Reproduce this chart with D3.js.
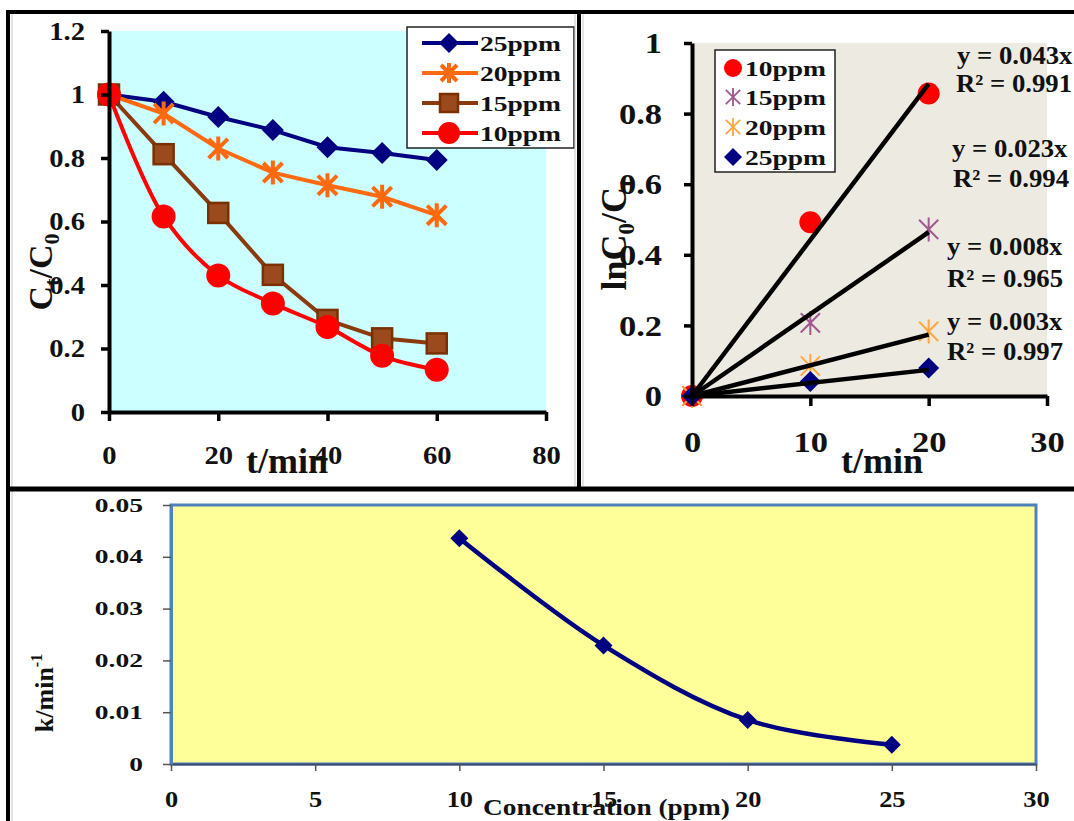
<!DOCTYPE html>
<html><head><meta charset="utf-8">
<script src="https://cdn.jsdelivr.net/npm/d3@7"></script>
<style>
body{margin:0;background:#fff}
svg{display:block}
text{font-family:"Liberation Serif","Times New Roman",serif;font-weight:bold;fill:#111}
</style>
</head><body>
<svg id="c" width="1074" height="821"></svg>
<script>
// ---------- data ----------
const timeMin = [0, 10, 20, 30, 40, 50, 60];
const ratio25 = [1, 0.977, 0.929, 0.888, 0.834, 0.816, 0.794];
const ratio20 = [1, 0.940, 0.830, 0.754, 0.714, 0.678, 0.620];
const ratio15 = [1, 0.812, 0.627, 0.432, 0.290, 0.232, 0.216];
const ratio10 = [1, 0.616, 0.430, 0.342, 0.268, 0.177, 0.133];
const legend1Names = ["25ppm", "20ppm", "15ppm", "10ppm"];
const xTicks1 = [0, 20, 40, 60, 80];
const yTicks1 = [0, 0.2, 0.4, 0.6, 0.8, 1, 1.2];

const timeFit = [0, 10, 20];
const ln10 = [0, 0.492, 0.857];
const ln15 = [0, 0.207, 0.472];
const ln20 = [0, 0.085, 0.183];
const ln25 = [0, 0.041, 0.079];
const legend2Names = ["10ppm", "15ppm", "20ppm", "25ppm"];
const fitSlopes = [0.0442, 0.0232, 0.0087, 0.0037];
const eqLabels = ["y = 0.043x", "y = 0.023x", "y = 0.008x", "y = 0.003x"];
const r2Labels = ["R\u00B2 = 0.991", "R\u00B2 = 0.994", "R\u00B2 = 0.965", "R\u00B2 = 0.997"];
const xTicks2 = [0, 10, 20, 30];
const yTicks2 = [0, 0.2, 0.4, 0.6, 0.8, 1];

const concPpm = [10, 15, 20, 25];
const kRate = [0.0436, 0.0229, 0.0085, 0.0037];
const xTicks3 = [0, 5, 10, 15, 20, 25, 30];
const yTicks3 = [0, 0.01, 0.02, 0.03, 0.04, 0.05];

// ---------- helpers ----------
const svg = d3.select("#c");
function stretch(sel, k) {
  sel.each(function () {
    const t = d3.select(this);
    const x = +t.attr("x") || 0, y = +t.attr("y") || 0;
    t.attr("x", 0).attr("y", 0).attr("transform", `translate(${x},${y}) scale(${k},1)`);
  });
}
function marker(g, type, x, y, color, s, sw) {
  if (type === "diamond") {
    g.append("path").attr("d", `M${x},${y - s}L${x + s},${y}L${x},${y + s}L${x - s},${y}Z`).attr("fill", color);
  } else if (type === "square") {
    g.append("rect").attr("x", x - s).attr("y", y - s).attr("width", 2 * s).attr("height", 2 * s)
      .attr("fill", "#9a4a1c").attr("stroke", color).attr("stroke-width", 2.5);
  } else if (type === "circle") {
    g.append("circle").attr("cx", x).attr("cy", y).attr("r", s).attr("fill", color);
  } else if (type === "star") {
    const a = s * 0.8;
    g.append("path").attr("d", `M${x - a},${y - a}L${x + a},${y + a}M${x - a},${y + a}L${x + a},${y - a}M${x},${y - s}L${x},${y + s}`)
      .attr("stroke", color).attr("stroke-width", sw).attr("fill", "none");
  } else if (type === "xstar") {
    const a = s * 0.8;
    g.append("path").attr("d", `M${x - a},${y - a}L${x + a},${y + a}M${x - a},${y + a}L${x + a},${y - a}M${x},${y - s}L${x},${y + s}`)
      .attr("stroke", color).attr("stroke-width", sw).attr("fill", "none");
  }
}
const fmt = d => d === 0 ? "0" : String(+d.toFixed(2));

// ---------- frame ----------
svg.append("rect").attr("width", 1074).attr("height", 821).attr("fill", "#fff");

// ---------- panel 1 ----------
const x1 = d3.scaleLinear().domain([0, 80]).range([109, 546]);
const y1 = d3.scaleLinear().domain([0, 1.2]).range([412, 31]);
const p1 = svg.append("g");
p1.append("rect").attr("x", x1(0)).attr("y", y1(1.2)).attr("width", x1(80) - x1(0)).attr("height", y1(0) - y1(1.2)).attr("fill", "#CCFFFF");

const series1 = [
  { name: "25ppm", vals: ratio25, color: "#000080", type: "diamond", size: 11, curve: d3.curveLinear },
  { name: "20ppm", vals: ratio20, color: "#FF6A10", type: "star", size: 12, curve: d3.curveLinear },
  { name: "15ppm", vals: ratio15, color: "#7A3000", type: "square", size: 10, curve: d3.curveLinear },
  { name: "10ppm", vals: ratio10, color: "#FF0000", type: "circle", size: 12, curve: d3.curveCatmullRom.alpha(0.5) }
];
series1.forEach(s => {
  const line = d3.line().x((d, i) => x1(timeMin[i])).y(d => y1(d)).curve(s.curve);
  p1.append("path").attr("d", line(s.vals)).attr("fill", "none").attr("stroke", s.type === "square" ? "#8B3A0E" : s.color).attr("stroke-width", 4);
  s.vals.forEach((v, i) => marker(p1, s.type, x1(timeMin[i]), y1(v), s.color, s.size, 4));
});

const ax1b = p1.append("g").attr("transform", `translate(0,${y1(0)})`)
  .call(d3.axisBottom(x1).tickValues(xTicks1).tickSize(9).tickPadding(25).tickSizeOuter(0).tickFormat(d3.format("d")));
const ax1l = p1.append("g").attr("transform", `translate(${x1(0)},0)`)
  .call(d3.axisLeft(y1).tickValues(yTicks1).tickSize(8).tickPadding(16).tickSizeOuter(0).tickFormat(fmt));
[ax1b, ax1l].forEach(a => {
  a.select(".domain").attr("stroke", "#000").attr("stroke-width", 4);
  a.selectAll(".tick line").attr("stroke", "#000").attr("stroke-width", 3.5);
  a.selectAll(".tick text").attr("font-size", 26).attr("fill", "#111");
  stretch(a.selectAll(".tick text"), 1.1);
});

// legend 1
const lg1 = p1.append("g");
lg1.append("rect").attr("x", 407).attr("y", 27).attr("width", 167).attr("height", 121).attr("fill", "#fff").attr("stroke", "#222").attr("stroke-width", 1.5);
const lgRows1 = [43, 73, 103, 133];
series1.forEach((s, i) => {
  const yy = lgRows1[i];
  lg1.append("line").attr("x1", 422).attr("x2", 478).attr("y1", yy).attr("y2", yy).attr("stroke", s.type === "square" ? "#8B3A0E" : s.color).attr("stroke-width", 4);
  marker(lg1, s.type, 449, yy, s.color, s.type === "square" ? 9 : (s.type === "circle" ? 11 : 10), 4);
  const t = lg1.append("text").attr("x", 480).attr("y", yy + 8).attr("font-size", 22).text(legend1Names[i]);
  stretch(t, 1.25);
});

p1.append("text").attr("x", 287).attr("y", 473).attr("text-anchor", "middle").attr("font-size", 36).text("t/min");
const yl1 = p1.append("text").attr("transform", "translate(52,272) rotate(-90)").attr("text-anchor", "middle").attr("font-size", 34);
yl1.append("tspan").text("C");
yl1.append("tspan").attr("font-size", 22).attr("dy", 7).text("t");
yl1.append("tspan").attr("dy", -7).text("/C");
yl1.append("tspan").attr("font-size", 22).attr("dy", 7).text("0");

// ---------- panel 2 ----------
const x2 = d3.scaleLinear().domain([0, 30]).range([692, 1047]);
const y2 = d3.scaleLinear().domain([0, 1]).range([396, 43]);
const p2 = svg.append("g");
p2.append("rect").attr("x", x2(0)).attr("y", y2(1)).attr("width", x2(30) - x2(0)).attr("height", y2(0) - y2(1)).attr("fill", "#EDEBE1");

const series2 = [
  { name: "10ppm", vals: ln10, color: "#FF0000", type: "circle", size: 11, sw: 2 },
  { name: "15ppm", vals: ln15, color: "#A0588F", type: "xstar", size: 12, sw: 2 },
  { name: "20ppm", vals: ln20, color: "#FFA640", type: "xstar", size: 12, sw: 2 },
  { name: "25ppm", vals: ln25, color: "#000080", type: "diamond", size: 10.5, sw: 2 }
];
series2.forEach(s => s.vals.forEach((v, i) => marker(p2, s.type, x2(timeFit[i]), y2(v), s.color, s.size, s.sw)));
fitSlopes.forEach(k => {
  p2.append("line").attr("x1", x2(0)).attr("y1", y2(0)).attr("x2", x2(20)).attr("y2", y2(k * 20))
    .attr("stroke", "#000").attr("stroke-width", 4.5);
});

const ax2b = p2.append("g").attr("transform", `translate(0,${y2(0)})`)
  .call(d3.axisBottom(x2).tickValues(xTicks2).tickSize(10).tickPadding(25).tickSizeOuter(0).tickFormat(d3.format("d")));
const ax2l = p2.append("g").attr("transform", `translate(${x2(0)},0)`)
  .call(d3.axisLeft(y2).tickValues(yTicks2).tickSize(8).tickPadding(22).tickSizeOuter(0).tickFormat(fmt));
[ax2b, ax2l].forEach(a => {
  a.select(".domain").attr("stroke", "#000").attr("stroke-width", 4);
  a.selectAll(".tick line").attr("stroke", "#000").attr("stroke-width", 3.5);
  a.selectAll(".tick text").attr("font-size", 30).attr("fill", "#111");
  stretch(a.selectAll(".tick text"), 1.15);
});

const lg2 = p2.append("g");
lg2.append("rect").attr("x", 715).attr("y", 50).attr("width", 120).attr("height", 122).attr("fill", "#fff").attr("stroke", "#222").attr("stroke-width", 1.5);
const lgRows2 = [68, 97, 127, 157];
series2.forEach((s, i) => {
  const yy = lgRows2[i];
  marker(lg2, s.type, 733, yy, s.color, s.type === "circle" ? 9 : 9, 1.8);
  const t = lg2.append("text").attr("x", 745).attr("y", yy + 8).attr("font-size", 22).text(legend2Names[i]);
  stretch(t, 1.25);
});

const eqX = [957, 952, 947, 947];
const eqY = [64, 157, 255, 330];
const r2X = [956, 953, 947, 947];
const r2Y = [92, 187, 287, 360];
eqLabels.forEach((e, i) => {
  stretch(p2.append("text").attr("x", eqX[i]).attr("y", eqY[i]).attr("font-size", 25).text(e), 1.07);
  stretch(p2.append("text").attr("x", r2X[i]).attr("y", r2Y[i]).attr("font-size", 25).text(r2Labels[i]), 1.07);
});

p2.append("text").attr("x", 882).attr("y", 473).attr("text-anchor", "middle").attr("font-size", 36).text("t/min");
const yl2 = p2.append("text").attr("transform", "translate(626,235) rotate(-90)").attr("text-anchor", "middle").attr("font-size", 36);
yl2.append("tspan").text("lnC");
yl2.append("tspan").attr("font-size", 23).attr("dy", 8).text("0");
yl2.append("tspan").attr("dy", -8).text("/C");
yl2.append("tspan").attr("font-size", 23).attr("dy", 8).text("t");

// ---------- panel 3 ----------
const x3 = d3.scaleLinear().domain([0, 30]).range([171, 1036]);
const y3 = d3.scaleLinear().domain([0, 0.05]).range([764, 505]);
const p3 = svg.append("g");
p3.append("rect").attr("x", x3(0)).attr("y", y3(0.05)).attr("width", x3(30) - x3(0)).attr("height", y3(0) - y3(0.05))
  .attr("fill", "#FFFF99").attr("stroke", "#4F81BD").attr("stroke-width", 3);
const ax3b = p3.append("g").attr("transform", `translate(0,${y3(0)})`)
  .call(d3.axisBottom(x3).tickValues(xTicks3).tickSize(7).tickPadding(19).tickSizeOuter(0).tickFormat(d3.format("d")));
const ax3l = p3.append("g").attr("transform", `translate(${x3(0)},0)`)
  .call(d3.axisLeft(y3).tickValues(yTicks3).tickSize(8).tickPadding(20).tickSizeOuter(0).tickFormat(fmt));
ax3b.select(".domain").attr("stroke", "#3a4a6a").attr("stroke-width", 2);
ax3l.select(".domain").attr("stroke", "#4F81BD").attr("stroke-width", 3);
[ax3b, ax3l].forEach(a => {
  a.selectAll(".tick line").attr("stroke", "#555").attr("stroke-width", 1.5);
});
ax3b.selectAll(".tick text").attr("font-size", 24).attr("fill", "#111");
stretch(ax3b.selectAll(".tick text"), 1.1);
ax3l.selectAll(".tick text").attr("font-size", 19).attr("fill", "#111");
stretch(ax3l.selectAll(".tick text"), 1.45);

const line3 = d3.line().x((d, i) => x3(concPpm[i])).y(d => y3(d)).curve(d3.curveCatmullRom.alpha(0.5));
p3.append("path").attr("d", line3(kRate)).attr("fill", "none").attr("stroke", "#000080").attr("stroke-width", 4.5);
kRate.forEach((v, i) => marker(p3, "diamond", x3(concPpm[i]), y3(v), "#000080", 9));

stretch(p3.append("text").attr("x", 483).attr("y", 815).attr("font-size", 23).text("Concentration (ppm)"), 1.19);
const yl3 = p3.append("text").attr("transform", "translate(53,693) rotate(-90)").attr("text-anchor", "middle").attr("font-size", 26);
yl3.append("tspan").text("k/min");
yl3.append("tspan").attr("font-size", 16).attr("dy", -11).text("-1");

// ---------- frame lines ----------
const fr = svg.append("g");
fr.append("line").attr("x1", 6).attr("x2", 1074).attr("y1", 12).attr("y2", 12).attr("stroke", "#000").attr("stroke-width", 4);
fr.append("line").attr("x1", 8).attr("x2", 8).attr("y1", 10).attr("y2", 821).attr("stroke", "#000").attr("stroke-width", 4);
fr.append("line").attr("x1", 12).attr("x2", 12).attr("y1", 14).attr("y2", 821).attr("stroke", "#c8c8c8").attr("stroke-width", 1);
fr.append("line").attr("x1", 579).attr("x2", 579).attr("y1", 10).attr("y2", 490).attr("stroke", "#000").attr("stroke-width", 4);
fr.append("line").attr("x1", 583).attr("x2", 583).attr("y1", 14).attr("y2", 486).attr("stroke", "#c8c8c8").attr("stroke-width", 1);
fr.append("line").attr("x1", 575).attr("x2", 575).attr("y1", 14).attr("y2", 486).attr("stroke", "#c8c8c8").attr("stroke-width", 1);
fr.append("line").attr("x1", 6).attr("x2", 1074).attr("y1", 489).attr("y2", 489).attr("stroke", "#000").attr("stroke-width", 5);
</script>
</body></html>
